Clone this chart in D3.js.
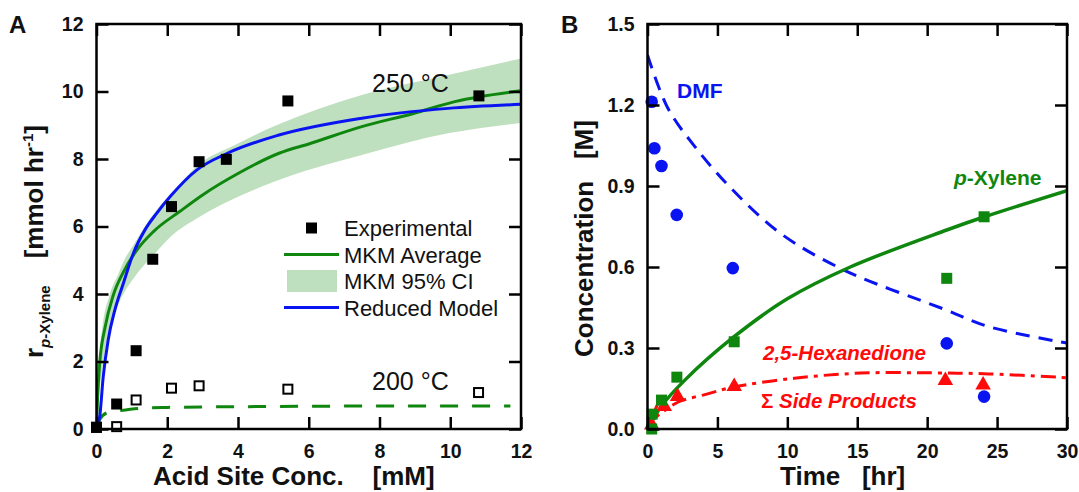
<!DOCTYPE html>
<html><head><meta charset="utf-8">
<script src="https://cdn.jsdelivr.net/npm/d3@7"></script>
<style>
html,body{margin:0;padding:0;background:#fff;}
svg{display:block;font-family:"Liberation Sans",Arial,sans-serif;}
</style></head>
<body>
<svg id="chart" width="1079" height="492"></svg>
<script>
// ---------- Panel A data ----------
const aTicks = [0, 2, 4, 6, 8, 10, 12];
const exp250X = [0, 0.57, 1.12, 1.59, 2.12, 2.90, 3.67, 5.41, 10.81];
const exp250Y = [0.05, 0.74, 2.32, 5.03, 6.59, 7.92, 7.99, 9.72, 9.87];
const exp200X = [0, 0.57, 1.12, 2.12, 2.90, 5.41, 10.80];
const exp200Y = [0.05, 0.07, 0.86, 1.21, 1.28, 1.18, 1.08];
const mkmX = [0, 0.03, 0.09, 0.24, 0.47, 0.76, 1.14, 1.61, 2.36, 3.02, 4.0, 5.16, 6.04, 7.5, 8.96, 10.13, 12];
const mkmAvg = [0.05, 0.9, 1.95, 3.0, 3.95, 4.65, 5.3, 5.85, 6.45, 6.95, 7.57, 8.17, 8.46, 8.96, 9.35, 9.70, 10.02];
const ciX = [0, 0.05, 0.14, 0.38, 0.62, 0.76, 1.07, 1.7, 2.05, 2.93, 3.88, 5.0, 7.5, 9.94, 12];
const ciHi = [0.1, 1.5, 2.8, 4.0, 4.6, 4.95, 5.5, 6.5, 6.9, 7.87, 8.40, 8.96, 9.90, 10.49, 10.98];
const ciLo = [0.0, 0.8, 1.6, 3.0, 3.7, 4.0, 4.5, 5.25, 5.65, 6.3, 6.82, 7.32, 8.12, 8.76, 9.07];
const redX = [0, 0.09, 0.19, 0.33, 0.52, 0.76, 1.04, 1.37, 1.70, 2.12, 2.83, 3.70, 5.16, 7.5, 9.94, 12];
const redY = [0.05, 0.36, 1.55, 2.64, 3.53, 4.32, 5.2, 5.9, 6.39, 6.93, 7.67, 8.17, 8.71, 9.21, 9.50, 9.62];
const mkm200X = [0, 0.1, 0.3, 0.64, 1.3, 2, 4, 8, 11.7];
const mkm200Y = [0.05, 0.3, 0.48, 0.54, 0.62, 0.64, 0.66, 0.68, 0.68];
const legendLabels = ["Experimental", "MKM Average", "MKM 95% CI", "Reduced Model"];

// ---------- Panel B data ----------
const bXTicks = [0, 5, 10, 15, 20, 25, 30];
const bYTicks = [0, 0.3, 0.6, 0.9, 1.2, 1.5];
const dmfT = [0.3, 0.49, 1.0, 2.09, 6.1, 21.4, 24.07];
const dmfC = [1.212, 1.04, 0.974, 0.793, 0.596, 0.317, 0.12];
const pxT = [0.3, 0.33, 1.0, 2.1, 6.2, 21.4, 24.07];
const pxC = [0.0, 0.055, 0.107, 0.192, 0.323, 0.558, 0.786];
const sideT = [0.3, 1.2, 2.15, 6.2, 21.3, 24.0];
const sideC = [0.015, 0.083, 0.12, 0.157, 0.18, 0.163];
const dmfLineT = [0, 1.44, 3.4, 6.1, 9.5, 14, 21.4, 24.4, 30];
const dmfLineC = [1.385, 1.19, 1.045, 0.885, 0.725, 0.59, 0.44, 0.379, 0.318];
const pxLineT = [0, 1, 2.67, 6.1, 10, 14.5, 21.4, 24.1, 30];
const pxLineC = [0, 0.085, 0.181, 0.338, 0.482, 0.60, 0.737, 0.786, 0.883];
const sideLineT = [0, 0.5, 1, 2.2, 4.3, 6.1, 10.5, 15.2, 20.2, 24.4, 30];
const sideLineC = [0.02, 0.04, 0.06, 0.10, 0.13, 0.155, 0.188, 0.207, 0.208, 0.204, 0.19];
const hexLineT = [0, 0.4, 0.8];
const hexLineC = [0.01, 0.055, 0.10];

const GREEN = "#0f870f", BLUE = "#0a14f0", RED = "#ff0a0a", BAND = "#bfe0bf";
const FONT = '"Liberation Sans",Arial,sans-serif';

const svg = d3.select("#chart");

function frame(g, x, y, xTicks, yTicks, xFmt, yFmt) {
  const [x0, x1] = x.range(), [y0, y1] = y.range();
  const styleAxis = sel => {
    sel.select(".domain").remove();
    sel.selectAll(".tick line").attr("stroke", "#000").attr("stroke-width", 2.5);
    sel.selectAll("text").attr("font-family", FONT).attr("font-weight", "bold")
      .attr("font-size", 19.5).attr("fill", "#111");
  };
  g.append("g").attr("transform", `translate(0,${y0})`)
    .call(d3.axisBottom(x).tickValues(xTicks).tickFormat(xFmt).tickSizeInner(-12).tickSizeOuter(0).tickPadding(15))
    .call(styleAxis);
  g.append("g").attr("transform", `translate(0,${y1})`)
    .call(d3.axisTop(x).tickValues(xTicks).tickFormat("").tickSizeInner(-12).tickSizeOuter(0))
    .call(styleAxis);
  g.append("g").attr("transform", `translate(${x0},0)`)
    .call(d3.axisLeft(y).tickValues(yTicks).tickFormat(yFmt).tickSizeInner(-12).tickSizeOuter(0).tickPadding(13))
    .call(styleAxis);
  g.append("g").attr("transform", `translate(${x1},0)`)
    .call(d3.axisRight(y).tickValues(yTicks).tickFormat("").tickSizeInner(-12).tickSizeOuter(0))
    .call(styleAxis);
  g.append("rect").attr("x", x0).attr("y", y1).attr("width", x1 - x0).attr("height", y0 - y1)
    .attr("fill", "none").attr("stroke", "#000").attr("stroke-width", 2.5);
}

// ================= Panel A =================
const xA = d3.scaleLinear().domain([0, 12]).range([96.5, 521]);
const yA = d3.scaleLinear().domain([0, 12]).range([429, 24]);
const gA = svg.append("g");
svg.append("clipPath").attr("id", "clipA").append("rect")
  .attr("x", 96.5).attr("y", 24).attr("width", 521 - 96.5).attr("height", 405);
const pA = gA.append("g").attr("clip-path", "url(#clipA)");

const band = d3.area().x(i => xA(ciX[i])).y0(i => yA(ciLo[i])).y1(i => yA(ciHi[i])).curve(d3.curveMonotoneX);
pA.append("path").attr("d", band(d3.range(ciX.length))).attr("fill", BAND);

const lineA = (xs, ys) => d3.line().x(i => xA(xs[i])).y(i => yA(ys[i])).curve(d3.curveMonotoneX)(d3.range(xs.length));
pA.append("path").attr("d", lineA(mkm200X, mkm200Y)).attr("fill", "none").attr("stroke", GREEN)
  .attr("stroke-width", 3).attr("stroke-dasharray", "18,14");
pA.append("path").attr("d", lineA(mkmX, mkmAvg)).attr("fill", "none").attr("stroke", GREEN).attr("stroke-width", 3);
pA.append("path").attr("d", lineA(redX, redY)).attr("fill", "none").attr("stroke", BLUE).attr("stroke-width", 3);

gA.selectAll(".open").data(d3.range(exp200X.length)).join("rect")
  .attr("x", i => xA(exp200X[i]) - 4.5).attr("y", i => yA(exp200Y[i]) - 4.5)
  .attr("width", 9).attr("height", 9).attr("fill", "#fff").attr("stroke", "#000").attr("stroke-width", 2);
gA.selectAll(".filled").data(d3.range(exp250X.length)).join("rect")
  .attr("x", i => xA(exp250X[i]) - 5.5).attr("y", i => yA(exp250Y[i]) - 5.5)
  .attr("width", 11).attr("height", 11).attr("fill", "#000");

frame(gA, xA, yA, aTicks, aTicks, d3.format("d"), d3.format("d"));

// legend
const lg = gA.append("g");
const rowY = [228, 254.5, 281, 307.5];
lg.append("rect").attr("x", 306).attr("y", rowY[0] - 5.5).attr("width", 11).attr("height", 11).attr("fill", "#000");
lg.append("line").attr("x1", 284).attr("x2", 339).attr("y1", rowY[1]).attr("y2", rowY[1]).attr("stroke", GREEN).attr("stroke-width", 3);
lg.append("rect").attr("x", 287).attr("y", rowY[2] - 11).attr("width", 50).attr("height", 22).attr("fill", BAND);
lg.append("line").attr("x1", 284).attr("x2", 339).attr("y1", rowY[3]).attr("y2", rowY[3]).attr("stroke", BLUE).attr("stroke-width", 3);
lg.selectAll("text").data(legendLabels).join("text")
  .attr("x", 344).attr("y", (d, i) => rowY[i] + 8).attr("font-size", 22).attr("font-family", FONT)
  .attr("fill", "#111").text(d => d);

gA.append("text").attr("x", 372).attr("y", 92).attr("font-size", 25).attr("font-family", FONT).attr("fill", "#111").text("250 °C");
gA.append("text").attr("x", 372).attr("y", 390).attr("font-size", 25).attr("font-family", FONT).attr("fill", "#111").text("200 °C");

// axis titles A
gA.append("text").attr("x", 153).attr("y", 485).attr("font-size", 26).attr("font-weight", "bold")
  .attr("font-family", FONT).attr("fill", "#111").attr("xml:space", "preserve").style("white-space", "pre")
  .text("Acid Site Conc.    [mM]");
const yt = gA.append("text").attr("transform", "translate(43,358) rotate(-90)").attr("font-family", FONT)
  .attr("font-weight", "bold").attr("fill", "#111").attr("font-size", 26);
yt.append("tspan").text("r");
yt.append("tspan").attr("font-size", 15).attr("dy", 7).attr("font-style", "italic").text("p");
yt.append("tspan").attr("font-size", 15).text("-Xylene");
yt.append("tspan").attr("dy", -7).attr("dx", 27).text("[mmol hr");
yt.append("tspan").attr("font-size", 15).attr("dy", -10).text("-1");
yt.append("tspan").attr("dy", 10).text("]");

svg.append("text").attr("x", 9).attr("y", 33).attr("font-size", 24).attr("font-weight", "bold")
  .attr("font-family", FONT).attr("fill", "#111").text("A");

// ================= Panel B =================
const xB = d3.scaleLinear().domain([0, 30]).range([647.5, 1067]);
const yB = d3.scaleLinear().domain([0, 1.5]).range([429, 24]);
const gB = svg.append("g");
svg.append("clipPath").attr("id", "clipB").append("rect")
  .attr("x", 647.5).attr("y", 24).attr("width", 1067 - 647.5).attr("height", 405);
const pB = gB.append("g").attr("clip-path", "url(#clipB)");
const lineB = (xs, ys) => d3.line().x(i => xB(xs[i])).y(i => yB(ys[i])).curve(d3.curveCatmullRom)(d3.range(xs.length));

pB.append("path").attr("d", lineB(dmfLineT, dmfLineC)).attr("fill", "none").attr("stroke", BLUE)
  .attr("stroke-width", 3).attr("stroke-dasharray", "14,9");
pB.append("path").attr("d", lineB(sideLineT, sideLineC)).attr("fill", "none").attr("stroke", RED)
  .attr("stroke-width", 3).attr("stroke-dasharray", "15,6,4,6");
pB.append("path").attr("d", lineB(hexLineT, hexLineC)).attr("fill", "none").attr("stroke", RED).attr("stroke-width", 3);
pB.append("path").attr("d", lineB(pxLineT, pxLineC)).attr("fill", "none").attr("stroke", GREEN).attr("stroke-width", 3.5);

gB.selectAll(".tri").data(d3.range(sideT.length)).join("path")
  .attr("d", d3.symbol().type(d3.symbolTriangle).size(105))
  .attr("transform", i => `translate(${xB(sideT[i])},${yB(sideC[i])})`).attr("fill", RED);
gB.selectAll(".sq").data(d3.range(pxT.length)).join("rect")
  .attr("x", i => xB(pxT[i]) - 5.5).attr("y", i => yB(pxC[i]) - 5.5)
  .attr("width", 11).attr("height", 11).attr("fill", GREEN);
gB.selectAll(".circ").data(d3.range(dmfT.length)).join("circle")
  .attr("cx", i => xB(dmfT[i])).attr("cy", i => yB(dmfC[i])).attr("r", 6.3).attr("fill", BLUE);

frame(gB, xB, yB, bXTicks, bYTicks, d3.format("d"), d3.format(".1f"));

// labels B
gB.append("text").attr("x", 677).attr("y", 98).attr("font-size", 21).attr("font-weight", "bold")
  .attr("font-family", FONT).attr("fill", BLUE).text("DMF");
const pxl = gB.append("text").attr("x", 954).attr("y", 185).attr("font-size", 21).attr("font-weight", "bold")
  .attr("font-family", FONT).attr("fill", GREEN);
pxl.append("tspan").attr("font-style", "italic").text("p");
pxl.append("tspan").text("-Xylene");
gB.append("text").attr("x", 763).attr("y", 360).attr("font-size", 20.5).attr("font-weight", "bold")
  .attr("font-style", "italic").attr("font-family", FONT).attr("fill", RED).text("2,5-Hexanedione");
gB.append("text").attr("x", 761).attr("y", 408).attr("font-size", 20.5).attr("font-weight", "bold")
  .attr("font-family", FONT).attr("fill", RED).attr("xml:space", "preserve").style("white-space", "pre")
  .html('Σ <tspan font-style="italic">Side Products</tspan>');

gB.append("text").attr("x", 780).attr("y", 485).attr("font-size", 26).attr("font-weight", "bold")
  .attr("font-family", FONT).attr("fill", "#111").attr("xml:space", "preserve").style("white-space", "pre")
  .text("Time   [hr]");
gB.append("text").attr("transform", "translate(593,357) rotate(-90)").attr("font-size", 26).attr("font-weight", "bold")
  .attr("font-family", FONT).attr("fill", "#111").attr("xml:space", "preserve").style("white-space", "pre")
  .text("Concentration   [M]");
svg.append("text").attr("x", 561).attr("y", 33).attr("font-size", 24).attr("font-weight", "bold")
  .attr("font-family", FONT).attr("fill", "#111").text("B");
</script>
</body></html>
